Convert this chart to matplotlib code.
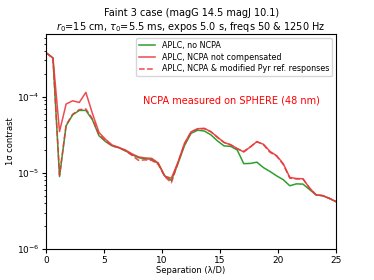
import matplotlib
matplotlib.use("Agg")
import matplotlib.pyplot as plt

# separation grid (lambda/D)
sep = [0.0, 0.568, 1.136, 1.705, 2.273, 2.841, 3.409, 3.977, 4.545, 5.114,
       5.682, 6.25, 6.818, 7.386, 7.955, 8.523, 9.091, 9.659, 10.227, 10.795,
       11.364, 11.932, 12.5, 13.068, 13.636, 14.205, 14.773, 15.341, 15.909, 16.477,
       17.045, 17.614, 18.182, 18.75, 19.318, 19.886, 20.455, 21.023, 21.591, 22.159,
       22.727, 23.295, 23.864, 24.432, 25.0]

no_ncpa = [3.76e-4, 3.23e-4, 8.93e-6, 4.15e-5, 5.79e-5, 6.61e-5, 6.61e-5, 4.98e-5, 3.07e-5, 2.57e-5,
           2.26e-5, 2.14e-5, 1.95e-5, 1.74e-5, 1.58e-5, 1.53e-5, 1.51e-5, 1.32e-5, 9.12e-6, 7.94e-6,
           1.32e-5, 2.29e-5, 3.31e-5, 3.63e-5, 3.55e-5, 3.16e-5, 2.63e-5, 2.26e-5, 2.23e-5, 2.0e-5,
           1.32e-5, 1.33e-5, 1.38e-5, 1.17e-5, 1.04e-5, 9.12e-6, 8.13e-6, 6.76e-6, 7.16e-6, 7.11e-6,
           6.03e-6, 5.13e-6, 5.01e-6, 4.62e-6, 4.19e-6]

ncpa_not_comp = [3.76e-4, 3.23e-4, 3.49e-5, 8.02e-5, 8.85e-5, 8.41e-5, 1.14e-4, 6.03e-5, 3.39e-5, 2.75e-5,
                 2.32e-5, 2.16e-5, 2.0e-5, 1.78e-5, 1.62e-5, 1.57e-5, 1.55e-5, 1.35e-5, 9.02e-6, 8.51e-6,
                 1.38e-5, 2.45e-5, 3.47e-5, 3.80e-5, 3.85e-5, 3.47e-5, 2.95e-5, 2.51e-5, 2.34e-5, 2.09e-5,
                 1.88e-5, 2.19e-5, 2.57e-5, 2.37e-5, 1.91e-5, 1.68e-5, 1.32e-5, 8.71e-6, 8.41e-6, 8.36e-6,
                 6.31e-6, 5.13e-6, 5.01e-6, 4.62e-6, 4.19e-6]

ncpa_modified = [3.76e-4, 3.23e-4, 9.33e-6, 4.27e-5, 5.89e-5, 6.76e-5, 6.92e-5, 5.13e-5, 3.16e-5, 2.63e-5,
                 2.26e-5, 2.14e-5, 1.95e-5, 1.70e-5, 1.46e-5, 1.48e-5, 1.46e-5, 1.29e-5, 8.91e-6, 7.41e-6,
                 1.35e-5, 2.40e-5, 3.43e-5, 3.76e-5, 3.80e-5, 3.47e-5, 2.92e-5, 2.51e-5, 2.34e-5, 2.07e-5,
                 1.91e-5, 2.19e-5, 2.57e-5, 2.34e-5, 1.86e-5, 1.66e-5, 1.29e-5, 8.51e-6, 8.32e-6, 8.32e-6,
                 6.31e-6, 5.13e-6, 5.01e-6, 4.62e-6, 4.19e-6]

fig = plt.figure(figsize=(3.74, 2.8), dpi=100)
ax = fig.add_axes([0.124, 0.111, 0.774, 0.768])

ax.semilogy(sep, no_ncpa, color='#2ca02c', lw=1.1, label='APLC, no NCPA')
ax.semilogy(sep, ncpa_not_comp, color='#e8393c', lw=1.1, alpha=0.9, label='APLC, NCPA not compensated')
ax.semilogy(sep, ncpa_modified, color='#e8393c', lw=1.1, ls='--', alpha=0.9,
            label='APLC, NCPA & modified Pyr ref. responses')

ax.set_xlim(0, 25)
ax.set_ylim(1e-6, 6.7e-4)
ax.set_xlabel('Separation (λ/D)', fontsize=6, labelpad=1)
ax.set_ylabel('1σ contrast', fontsize=6, labelpad=1)
ax.tick_params(labelsize=6.5, length=3, pad=2)
ax.tick_params(which='minor', length=1.5)
ax.set_title('Faint 3 case (magG 14.5 magJ 10.1)\n'
             '$r_0$=15 cm, $\\tau_0$=5.5 ms, expos 5.0 s, freqs 50 & 1250 Hz',
             fontsize=7, pad=3)
ax.text(0.64, 0.69, 'NCPA measured on SPHERE (48 nm)', color='red', fontsize=7,
        ha='center', va='center', transform=ax.transAxes)
ax.legend(loc='upper right', fontsize=5.8, framealpha=0.8, labelspacing=0.35,
          borderpad=0.35)

fig.savefig('out.png', dpi=100)
